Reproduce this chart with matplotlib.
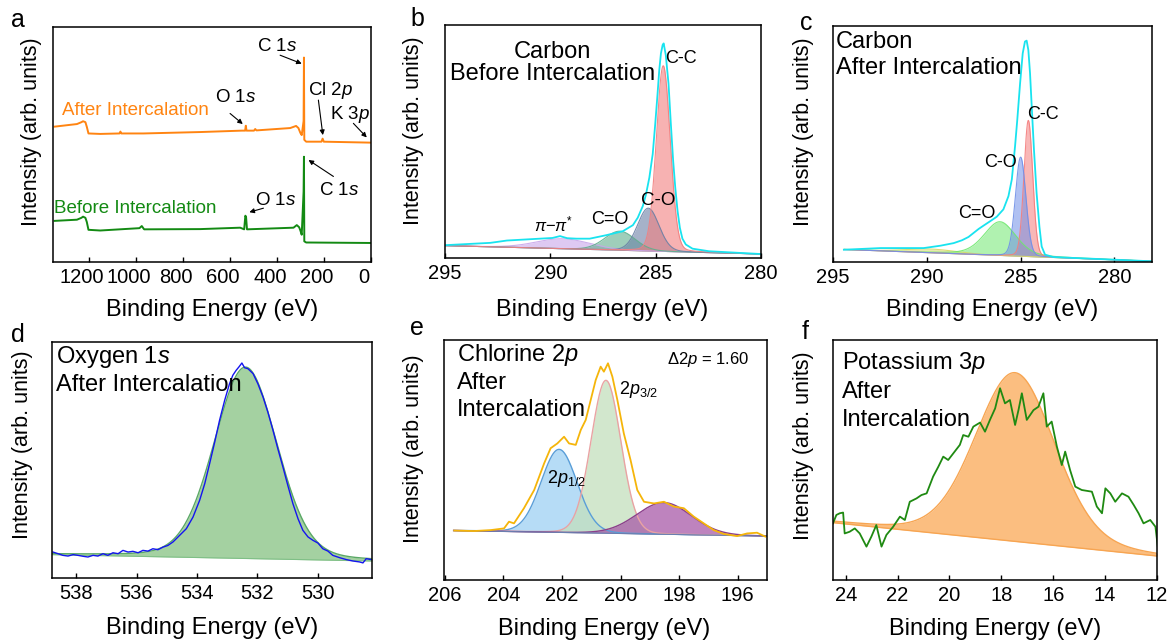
import numpy as np
import matplotlib
matplotlib.use("Agg")
import matplotlib.pyplot as plt
from matplotlib.transforms import ScaledTranslation

plt.rcParams.update({
    "font.family": ["Liberation Sans", "DejaVu Sans"],
    "mathtext.fontset": "custom",
    "mathtext.rm": "Liberation Sans",
    "mathtext.it": "Liberation Sans:italic",
    "mathtext.bf": "Liberation Sans:bold",
    "axes.linewidth": 1.1,
    "xtick.direction": "in",
    "xtick.major.size": 3.5,
    "xtick.major.width": 1.0,
    "xtick.major.pad": 4,
    "xtick.labelsize": 14.5,
})

# ---------------- survey spectra (a) ----------------
after_ev = [1346, 1251, 1232, 1225, 1215, 1209, 1202, 1152, 1070, 1066, 1062, 968,
            726, 549, 535, 532, 529, 497, 492, 487, 343, 318, 308, 300, 294, 286,
            284.5, 283, 275, 210, 205, 200, 3]
after_int = [57.6, 58.7, 59.5, 59.9, 59.5, 57.5, 54.7, 54.5, 54.7, 55.5, 54.7, 54.7,
             55.3, 55.9, 55.9, 58.0, 55.9, 55.9, 56.6, 56.0, 57.0, 57.9, 57.0, 55.0, 54.0, 60.0,
             87.0, 52.0, 51.2, 51.2, 52.5, 51.2, 50.8]
before_ev = [1346, 1251, 1232, 1225, 1215, 1209, 1202, 1152, 985, 975, 965, 726, 556,
             539, 534, 531, 527, 329, 315, 305, 300, 294, 286, 284.5, 283, 275, 3]
before_int = [17.5, 18.0, 18.8, 19.3, 18.8, 17.0, 13.7, 13.4, 14.4, 15.3, 13.9, 14.0, 14.6,
              13.9, 19.7, 19.2, 13.9, 14.6, 15.7, 14.8, 13.5, 11.6, 30.0, 44.8, 8.8, 8.3, 8.1]
survey_ticks = [1200, 1000, 800, 600, 400, 200, 0]

# ---------------- C 1s before intercalation (b) ----------------
b_env_ev = [295.0, 292.85, 292.06, 291.27, 290.49, 289.9, 289.54, 289.2, 288.76, 288.13,
            287.34, 286.56, 286.08, 285.85, 285.61, 285.46, 285.30, 285.14, 285.02, 284.91,
            284.83, 284.75, 284.67, 284.62, 284.52, 284.39, 284.28, 284.17, 284.07, 283.96,
            283.85, 283.73, 283.57, 283.25, 282.47, 280.0]
b_env_int = [5.5, 6.5, 7.5, 7.9, 8.3, 8.6, 9.4, 8.5, 8.3, 8.3,
             9.8, 11.5, 14.1, 17.3, 22.3, 27.3, 34.5, 44.6, 57.6, 70.5,
             80.6, 87.8, 91.4, 92.1, 87.1, 74.8, 57.6, 41.7, 30.2, 20.1,
             12.9, 8.3, 5.8, 4.0, 2.9, 1.7]
b_names = ["π-π*", "C=O", "C-O", "C-C"]
b_centers = [289.4, 286.7, 285.35, 284.64]
b_heights = [4.3, 8.2, 18.4, 79.7]
b_fwhm = [3.0, 1.7, 1.2, 0.78]
b_eta = [0.1, 0.1, 0.1, 0.1]
b_colors = ["#c9a6ea", "#5fae8c", "#6b80a6", "#f27f7f"]
b_baseline = [(295.0, 5.3), (280.0, 1.7)]

# ---------------- C 1s after intercalation (c) ----------------
c_env_ev = [294.42, 292.47, 290.17, 289.28, 288.57, 288.13, 287.78, 287.51, 287.24, 286.98,
            286.62, 286.27, 285.92, 285.65, 285.47, 285.30, 285.18, 285.03, 284.89, 284.77,
            284.68, 284.59, 284.50, 284.41, 284.29, 284.15, 284.0, 283.88, 283.70, 283.26,
            281.84, 280.07, 278.0]
c_env_int = [5.2, 5.9, 5.9, 6.9, 8.0, 9.2, 10.6, 12.3, 14.0, 15.4,
             17.3, 19.2, 22.3, 27.9, 35.0, 48.9, 60.2, 75.7, 88.4, 93.4,
             93.8, 89.8, 80.0, 65.9, 47.5, 29.2, 15.0, 6.6, 3.1, 2.1,
             1.6, 1.0, 0.3]
c_names = ["π-π*", "C=O", "C-C", "C-O"]
c_centers = [289.8, 286.1, 284.59, 285.0]
c_heights = [1.6, 14.3, 57.7, 42.0]
c_fwhm = [3.2, 2.0, 0.55, 0.66]
c_eta = [0.0, 0.3, 0.1, 0.1]
c_colors = ["#d8d86a", "#6fe86f", "#f47c7c", "#6f8fe8"]
c_baseline = [(294.4, 5.3), (278.0, 0.3)]

# ---------------- O 1s after intercalation (d) ----------------
d_ev = [538.77, 538.60, 538.44, 538.27, 538.10, 537.94, 537.77, 537.61, 537.44, 537.28,
        537.11, 536.95, 536.78, 536.61, 536.45, 536.28, 536.12, 535.95, 535.79, 535.62,
        535.46, 535.29, 535.12, 534.96, 534.79, 534.57, 534.35, 534.13, 533.91, 533.74,
        533.58, 533.41, 533.25, 533.08, 532.92, 532.81, 532.70, 532.61, 532.51, 532.42,
        532.31, 532.14, 531.98, 531.81, 531.65, 531.48, 531.32, 531.15, 530.99, 530.82,
        530.65, 530.49, 530.32, 530.16, 529.99, 529.83, 529.66, 529.50, 529.27, 529.05,
        528.83, 528.61, 528.50, 528.39, 528.23]
d_int = [11.0, 10.3, 9.6, 9.3, 9.9, 9.6, 9.2, 8.9, 9.6, 9.3,
         10.3, 9.6, 10.7, 10.3, 11.7, 11.0, 11.3, 10.7, 11.7, 11.4,
         12.4, 12.0, 13.1, 13.8, 15.3, 18.1, 20.9, 25.8, 32.9, 40.0,
         48.4, 57.6, 66.8, 75.3, 82.3, 85.9, 88.0, 89.4, 91.1, 89.1,
         88.7, 86.6, 82.3, 76.7, 70.3, 62.6, 54.8, 47.0, 39.3, 31.5,
         25.1, 20.2, 17.4, 16.0, 14.8, 12.4, 11.4, 9.6, 8.6, 7.8,
         7.2, 6.8, 6.4, 8.2, 7.8]
d_center, d_height, d_fwhm, d_eta = 532.39, 81.1, 2.45, 0.15
d_baseline = [(538.8, 9.9), (528.2, 7.2)]

# ---------------- Cl 2p after intercalation (e) ----------------
e_ev = [205.68, 205.0, 204.43, 203.98, 203.81, 203.64, 203.3, 202.95, 202.61, 202.39,
        202.16, 201.93, 201.76, 201.53, 201.36, 201.19, 201.02, 200.85, 200.68, 200.57,
        200.43, 200.28, 200.11, 199.89, 199.66, 199.43, 199.2, 198.86, 198.52, 198.18,
        197.84, 197.5, 197.16, 196.82, 196.48, 196.02, 195.68, 195.34, 195.06]
e_int = [20.6, 20.4, 20.8, 21.5, 24.3, 23.6, 29.9, 37.5, 48.6, 54.9,
         56.9, 59.7, 56.9, 56.3, 62.5, 66.7, 75.0, 83.3, 88.9, 86.8,
         90.3, 84.7, 75.0, 61.1, 50.0, 37.5, 32.6, 31.9, 32.6, 30.6,
         29.9, 26.4, 23.6, 20.8, 19.2, 18.3, 19.4, 19.7, 18.1]
e_names = ["2p1/2", "2p3/2", "satellite"]
e_centers = [202.10, 200.50, 198.52]
e_heights = [34.6, 63.7, 13.2]
e_fwhm = [1.45, 1.2, 2.2]
e_eta = [0.05, 0.05, 0.05]
e_fill = ["#a9d6f5", "#c3e0bd", "#a85aa8"]
e_edge = ["#5a9ed8", "#e9a3a3", "#8c3f8c"]
e_alpha = [0.85, 0.75, 0.75]
e_baseline = [(205.7, 20.6), (195.0, 18.3)]

# ---------------- K 3p after intercalation (f) ----------------
f_ev = [24.49, 24.36, 24.23, 24.1, 24.04, 23.85, 23.65, 23.46, 23.2, 23.01,
        22.82, 22.62, 22.43, 22.17, 21.91, 21.72, 21.53, 21.27, 21.08, 20.88,
        20.63, 20.43, 20.24, 20.05, 19.85, 19.6, 19.47, 19.27, 19.08, 18.82,
        18.63, 18.44, 18.24, 18.05, 17.86, 17.67, 17.47, 17.34, 17.21, 17.02,
        16.76, 16.57, 16.38, 16.25, 16.06, 15.86, 15.67, 15.54, 15.35, 15.15,
        14.9, 14.51, 14.32, 14.12, 13.99, 13.8, 13.61, 13.35, 13.1, 12.9,
        12.71, 12.52, 12.26, 12.06, 11.97]
f_int = [23.6, 27.1, 27.8, 28.1, 19.4, 20.1, 21.5, 19.4, 13.9, 18.1,
         22.9, 13.9, 18.8, 22.2, 26.4, 25.0, 32.6, 34.0, 35.4, 36.1,
         43.1, 47.2, 51.4, 50.0, 52.8, 56.3, 60.4, 59.7, 63.9, 65.6,
         61.8, 66.7, 71.5, 79.9, 73.6, 75.0, 64.6, 70.8, 77.8, 66.7,
         70.8, 72.2, 77.8, 63.9, 66.0, 55.6, 47.9, 53.5, 45.8, 38.9,
         37.5, 36.8, 30.6, 27.8, 38.2, 36.1, 32.6, 36.1, 34.7, 31.3,
         27.8, 23.6, 25.0, 22.2, 13.9]
f_center, f_height, f_fwhm, f_eta = 17.47, 70.3, 3.6, 0.15
f_baseline = [(24.49, 23.9), (12.0, 10.0)]

W, H = 1170, 641
fig = plt.figure(figsize=(W / 100, H / 100), dpi=100)


def pvoigt(x, center, height, fwhm, eta):
    g = np.exp(-4 * np.log(2) * ((x - center) / fwhm) ** 2)
    lor = 1.0 / (1.0 + 4 * ((x - center) / fwhm) ** 2)
    return height * ((1 - eta) * g + eta * lor)


def linear_bg(x, pts):
    (x0, y0), (x1, y1) = pts
    return y0 + (x - x0) * (y1 - y0) / (x1 - x0)


def panel(box, xlim, ticks, ylab_xy, xlab_xy):
    l, t, r, b = box
    ax = fig.add_axes([l / W, 1 - b / H, (r - l) / W, (b - t) / H])
    ax.set_xlim(*xlim)
    ax.set_ylim(0, 100)
    ax.set_xticks(ticks)
    ax.set_yticks([])
    ax.tick_params(axis="x", top=False, labelsize=14.5)
    fig.text(ylab_xy[0] / W, 1 - ylab_xy[1] / H, "Intensity (arb. units)",
             rotation=90, ha="center", va="center", fontsize=15.5)
    fig.text(xlab_xy[0] / W, 1 - xlab_xy[1] / H, "Binding Energy (eV)",
             ha="center", va="center", fontsize=17)
    return ax


def letter(s, x, y):
    fig.text(x / W, 1 - y / H, s, ha="center", va="center", fontsize=18)


def lines(ax, x, ys, texts, ha="left", size=17):
    for yy, s in zip(ys, texts):
        ax.text(x, yy, s, ha=ha, va="center", fontsize=size)


# ---- (a) survey ----
ax = panel((53, 27, 371, 262), (1353, -1), survey_ticks, (32, 132), (212, 310))
ax.set_xticklabels([str(v) for v in survey_ticks])
for lab in ax.get_xticklabels():
    lab.set_transform(lab.get_transform() + ScaledTranslation(-7 / 100, 0, fig.dpi_scale_trans))
ax.plot(after_ev, after_int, color="#ff8411", lw=1.4)
ax.plot(before_ev, before_int, color="#138a13", lw=1.4)
ax.text(1003, 64.6, "After Intercalation", color="#ff8411", ha="center", va="center", fontsize=13.5)
ax.text(1002, 22.9, "Before Intercalation", color="#138a13", ha="center", va="center", fontsize=13.5)
arrow = dict(arrowstyle="-|>", color="black", lw=0.8, mutation_scale=7, shrinkA=0, shrinkB=0)
notes = [
    (r"C $\mathit{1s}$", (400, 91.9), (386, 88.0), (294, 84.4)),
    (r"O $\mathit{1s}$", (577, 70.0), (599, 63.2), (545, 58.7)),
    (r"Cl $\mathit{2p}$", (173, 72.8), (223, 68.9), (204, 54.0)),
    (r"K $\mathit{3p}$", (89, 62.9), (74, 59.0), (17, 53.0)),
    (r"C $\mathit{1s}$", (135, 30.4), (159, 36.4), (265, 43.4)),
    (r"O $\mathit{1s}$", (404, 26.2), (457, 22.9), (517, 21.2)),
]
for s, txy, tail, head in notes:
    ax.text(*txy, s, ha="center", va="center", fontsize=13.5)
    ax.annotate("", xy=head, xytext=tail, arrowprops=arrow)
letter("a", 18, 20)

# ---- (b) C 1s before ----
ax = panel((445, 25, 761, 258), (295, 280), [295, 290, 285, 280], (414, 131), (602, 310))
xb = np.linspace(295, 280, 900)
bgb = linear_bg(xb, b_baseline)
for c, h, w, e, col in zip(b_centers, b_heights, b_fwhm, b_eta, b_colors):
    comp = pvoigt(xb, c, h, w, e)
    ax.fill_between(xb, bgb, bgb + comp, color=col, alpha=0.6, lw=0)
    ax.plot(xb, bgb + comp, color=col, lw=0.8, alpha=0.9)
ax.plot(b_env_ev, b_env_int, color="#19e3ef", lw=1.3)
lines(ax, 289.9, [88.5, 79.1], ["Carbon", "Before Intercalation"], ha="center")
ax.text(283.8, 85.6, "C-C", ha="center", va="center", fontsize=13)
ax.text(284.9, 24.5, "C-O", ha="center", va="center", fontsize=13.5)
ax.text(287.2, 16.5, "C=O", ha="center", va="center", fontsize=13)
ax.text(289.86, 14.4, r"$\pi$$-$$\pi^{*}$", ha="center", va="center", fontsize=12)
letter("b", 417, 19)

# ---- (c) C 1s after ----
ax = panel((833, 26, 1152, 262), (295, 278), [295, 290, 285, 280], (804, 132), (992, 310))
xc = np.linspace(294.4, 278, 900)
bgc = linear_bg(xc, c_baseline)
for c, h, w, e, col in zip(c_centers, c_heights, c_fwhm, c_eta, c_colors):
    comp = pvoigt(xc, c, h, w, e)
    ax.fill_between(xc, bgc, bgc + comp, color=col, alpha=0.55, lw=0)
    ax.plot(xc, bgc + comp, color=col, lw=0.8, alpha=0.9)
ax.plot(c_env_ev, c_env_int, color="#19e3ef", lw=1.3)
lines(ax, 294.86, [93.4, 82.1], ["Carbon", "After Intercalation"])
ax.text(283.79, 62.3, "C-C", ha="center", va="center", fontsize=13)
ax.text(286.09, 42.3, "C-O", ha="center", va="center", fontsize=13)
ax.text(287.33, 20.7, "C=O", ha="center", va="center", fontsize=13)
letter("c", 806, 23)

# ---- (d) O 1s ----
ax = panel((52, 342, 372, 578), (538.8, 528.2), [538, 536, 534, 532, 530], (23, 445), (212, 628))
xd = np.linspace(538.8, 528.2, 600)
bgd = linear_bg(xd, d_baseline)
fitd = bgd + pvoigt(xd, d_center, d_height, d_fwhm, d_eta)
ax.fill_between(xd, bgd, fitd, color="#9fcf9c", alpha=0.95, lw=0)
ax.plot(xd, fitd, color="#5aa866", lw=1.0)
ax.plot(xd, bgd, color="#7fbf86", lw=0.8)
ax.plot(d_ev, d_int, color="#1414f0", lw=1.0)
lines(ax, 538.68, [93.6, 81.6], [r"Oxygen $\mathit{1s}$", "After Intercalation"])
letter("d", 17.5, 335)

# ---- (e) Cl 2p ----
ax = panel((444, 340, 767, 580), (206.03, 195.0), [206, 204, 202, 200, 198, 196], (413, 449), (604, 629))
xe = np.linspace(205.7, 195.0, 700)
bge = linear_bg(xe, e_baseline)
for c, h, w, e, fc, ec, a in zip(e_centers, e_heights, e_fwhm, e_eta, e_fill, e_edge, e_alpha):
    comp = bge + pvoigt(xe, c, h, w, e)
    ax.fill_between(xe, bge, comp, color=fc, alpha=a, lw=0)
    ax.plot(xe, comp, color=ec, lw=1.0)
ax.plot(xe, bge, color="#6a7fb0", lw=0.8)
ax.plot(e_ev, e_int, color="#f5b50a", lw=1.3)
lines(ax, 205.59, [93.8, 81.9, 70.8], [r"Chlorine $\mathit{2p}$", "After", "Intercalation"])
ax.text(197.02, 91.7, r"$\Delta$$\mathit{2p}$ = %.2f" % (e_centers[0] - e_centers[1]),
        ha="center", va="center", fontsize=12)
ax.text(200.06, 79.2, r"$\mathit{2p}_{3/2}$", ha="left", va="center", fontsize=13)
ax.text(202.5, 42.4, r"$\mathit{2p}_{1/2}$", ha="left", va="center", fontsize=13)
letter("e", 417, 328)

# ---- (f) K 3p ----
ax = panel((833, 340, 1157, 580), (24.49, 12.0), [24, 22, 20, 18, 16, 14, 12], (803, 446), (995, 629))
xf = np.linspace(24.49, 12.0, 600)
bgf = linear_bg(xf, f_baseline)
fitf = bgf + pvoigt(xf, f_center, f_height, f_fwhm, f_eta)
ax.fill_between(xf, bgf, fitf, color="#fbb772", alpha=0.9, lw=0)
ax.plot(xf, fitf, color="#f7a552", lw=1.0)
ax.plot(xf, bgf, color="#f7a552", lw=1.0)
ax.plot(f_ev, f_int, color="#1f8a12", lw=1.3)
lines(ax, 24.13, [90.3, 78.5, 66.7], [r"Potassium $\mathit{3p}$", "After", "Intercalation"])
letter("f", 805, 332)

fig.savefig("out.png", dpi=100)
